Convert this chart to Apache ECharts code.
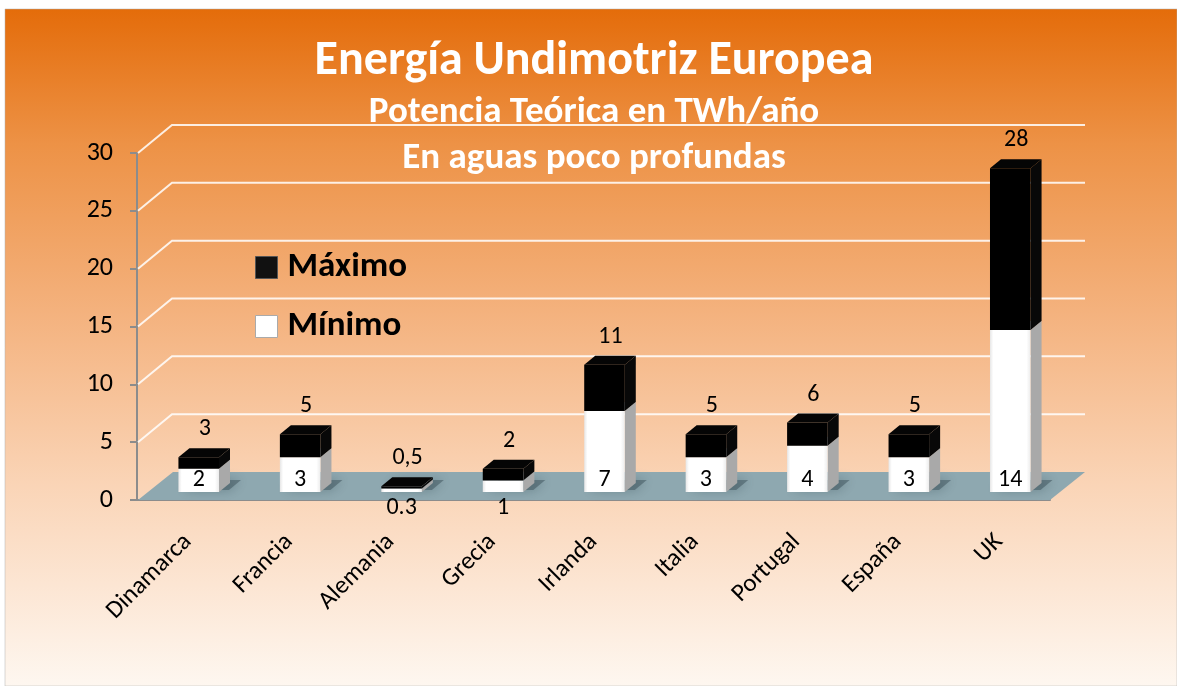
<!DOCTYPE html>
<html>
<head>
<meta charset="utf-8">
<script src="https://cdn.jsdelivr.net/npm/echarts@6/dist/echarts.min.js"></script>
<style>
  html, body { margin: 0; background: #fff; }
  #chart { width: 1177px; height: 686px; }
</style>
</head>
<body>
<div id="chart"></div>
<script>
const countries = ["Dinamarca", "Francia", "Alemania", "Grecia", "Irlanda", "Italia", "Portugal", "España", "UK"];
const minValues = [2, 3, 0.3, 1, 7, 3, 4, 3, 14];
const maxValues = [3, 5, 0.5, 2, 11, 5, 6, 5, 28];
const minLabels = ["2", "3", "0.3", "1", "7", "3", "4", "3", "14"];
const maxLabels = ["3", "5", "0,5", "2", "11", "5", "6", "5", "28"];
const yTicks = [5, 10, 15, 20, 25, 30];

const FONT = "Carlito, Lato, 'Open Sans', sans-serif";
// fake 3d offsets (px)
const WALL_DX = 35, WALL_DY = -28;
const BAR_DX = 11, BAR_DY = -8;
const SIDE_DX = 11, SIDE_DY = -9;

const chart = echarts.init(document.getElementById("chart"));

function box(params, api, colors) {
  const i = api.value(0);
  const base = api.coord([i, api.value(1)]);
  const top = api.coord([i, api.value(2)]);
  const bw = api.size([1, 0])[0] * 0.4;
  const x = base[0] - bw / 2 + BAR_DX;
  const yb = base[1] + BAR_DY;
  const yt = top[1] + BAR_DY;
  return {
    x, yb, yt, bw,
    children: [
      {
        type: "polygon",
        shape: { points: [[x + bw, yb], [x + bw + SIDE_DX, yb + SIDE_DY], [x + bw + SIDE_DX, yt + SIDE_DY], [x + bw, yt]] },
        style: { fill: colors.side },
      },
      {
        type: "polygon",
        shape: { points: [[x, yt], [x + SIDE_DX, yt + SIDE_DY], [x + bw + SIDE_DX, yt + SIDE_DY], [x + bw, yt]] },
        style: { fill: colors.top },
      },
      {
        type: "rect",
        shape: { x, y: yt, width: bw, height: yb - yt },
        style: { fill: colors.front },
      },
    ],
  };
}

const titleStyle = { color: "#fff", fontWeight: "bold", fontFamily: FONT };

chart.setOption({
  animation: false,
  graphic: [
    {
      type: "rect",
      z: -10,
      shape: { x: 5, y: 9, width: 1172, height: 677 },
      style: {
        fill: new echarts.graphic.LinearGradient(0, 0, 0, 1, [
          { offset: 0, color: "#e46c0a" },
          { offset: 0.2, color: "#ed9246" },
          { offset: 0.45, color: "#f4b27e" },
          { offset: 0.7, color: "#fad4b6" },
          { offset: 1, color: "#fef7f0" },
        ]),
        stroke: "#b0b0b0",
        lineWidth: 0.5,
      },
    },
  ],
  title: [
    {
      text: "Energía Undimotriz Europea",
      left: 594, top: 62, textAlign: "center", textVerticalAlign: "middle", padding: 0,
      textStyle: { ...titleStyle, fontSize: 48 },
    },
    {
      text: "Potencia Teórica en TWh/año",
      left: 594, top: 113, textAlign: "center", textVerticalAlign: "middle", padding: 0,
      textStyle: { ...titleStyle, fontSize: 37 },
    },
    {
      text: "En aguas poco profundas",
      left: 594, top: 159, textAlign: "center", textVerticalAlign: "middle", padding: 0,
      textStyle: { ...titleStyle, fontSize: 37 },
    },
  ],
  legend: {
    orient: "vertical",
    left: 255,
    top: 250,
    itemWidth: 22,
    itemHeight: 22,
    itemGap: 24,
    icon: "rect",
    padding: 0,
    data: [
      { name: "Máximo", itemStyle: { color: "#111", borderColor: "#555", borderWidth: 1 } },
      { name: "Mínimo", itemStyle: { color: "#fff", borderColor: "#aaa", borderWidth: 1 } },
    ],
    textStyle: { color: "#000", fontSize: 35, fontWeight: "bold", fontFamily: FONT, padding: [0, 0, 0, 5] },
  },
  grid: { left: 137, right: 127, top: 153, bottom: 186 },
  xAxis: {
    type: "category",
    data: countries,
    axisLine: { lineStyle: { color: "#8c8c8c", width: 2 } },
    axisTick: { length: 7, lineStyle: { color: "#8c8c8c", width: 2 } },
    axisLabel: { rotate: 45, margin: 38, color: "#000", fontSize: 25, fontFamily: FONT },
  },
  yAxis: {
    type: "value",
    min: 0,
    max: 30,
    interval: 5,
    axisLine: { show: true, lineStyle: { color: "#8c8c8c", width: 2 } },
    axisTick: { show: true, length: 7, lineStyle: { color: "#8c8c8c", width: 2 } },
    axisLabel: { margin: 24, color: "#000", fontSize: 26, fontFamily: FONT },
    splitLine: { show: false },
  },
  series: [
    {
      name: "wall",
      type: "custom",
      silent: true,
      z: 1,
      data: yTicks.map((v) => [0, v]),
      renderItem(params, api) {
        const cs = params.coordSys;
        const y = api.coord([0, api.value(1)])[1];
        return {
          type: "polyline",
          shape: { points: [[cs.x + 1, y], [cs.x + WALL_DX, y + WALL_DY], [cs.x + cs.width + WALL_DX, y + WALL_DY]] },
          style: { stroke: "rgba(255,255,255,0.85)", lineWidth: 2, fill: null },
        };
      },
    },
    {
      name: "floor",
      type: "custom",
      silent: true,
      z: 1,
      data: [[0, 0]],
      renderItem(params, api) {
        const cs = params.coordSys;
        const y = api.coord([0, 0])[1];
        const x0 = cs.x + 1, x1 = cs.x + cs.width;
        return {
          type: "polygon",
          shape: { points: [[x0, y], [x0 + WALL_DX, y + WALL_DY], [x1 + WALL_DX, y + WALL_DY], [x1, y]] },
          style: { fill: "#8ea8b0" },
        };
      },
    },
    {
      name: "Mínimo",
      type: "custom",
      z: 3,
      itemStyle: { color: "#fff" },
      data: minValues.map((v, i) => [i, 0, v]),
      renderItem(params, api) {
        const b = box(params, api, {
          front: new echarts.graphic.LinearGradient(0, 0, 1, 0, [
            { offset: 0, color: "#e6e6e6" },
            { offset: 0.08, color: "#ffffff" },
            { offset: 0.9, color: "#ffffff" },
            { offset: 1, color: "#ececec" },
          ]),
          side: "#a9a9a9",
          top: "#f2f2f2",
        });
        const idx = params.dataIndex;
        const inside = b.yb - b.yt > 22;
        // soft shadow on the floor behind the bar foot
        b.children.unshift({
          type: "polygon",
          shape: { points: [[b.x + 4, b.yb - 2], [b.x + 16, b.yb - 12], [b.x + b.bw + 22, b.yb - 12], [b.x + b.bw + 10, b.yb - 2]] },
          style: { fill: "rgba(50,70,80,0.45)", shadowBlur: 12, shadowColor: "rgba(40,60,70,0.8)" },
        });
        b.children.push({
          type: "text",
          style: {
            text: minLabels[idx],
            x: b.x + b.bw / 2,
            y: inside ? b.yb - 12 : b.yb + 16,
            align: "center",
            verticalAlign: "middle",
            fill: "#000",
            fontSize: 24,
            fontFamily: FONT,
          },
        });
        return { type: "group", children: b.children };
      },
    },
    {
      name: "Máximo",
      type: "custom",
      z: 4,
      itemStyle: { color: "#000" },
      data: maxValues.map((v, i) => [i, minValues[i], v]),
      renderItem(params, api) {
        const b = box(params, api, { front: "#000", side: "#080808", top: "#050505" });
        b.children.push({
          type: "text",
          style: {
            text: maxLabels[params.dataIndex],
            x: b.x + b.bw / 2 + 6,
            y: b.yt - 28,
            align: "center",
            verticalAlign: "middle",
            fill: "#000",
            fontSize: 24,
            fontFamily: FONT,
          },
        });
        return { type: "group", children: b.children };
      },
    },
  ],
});
</script>
</body>
</html>
